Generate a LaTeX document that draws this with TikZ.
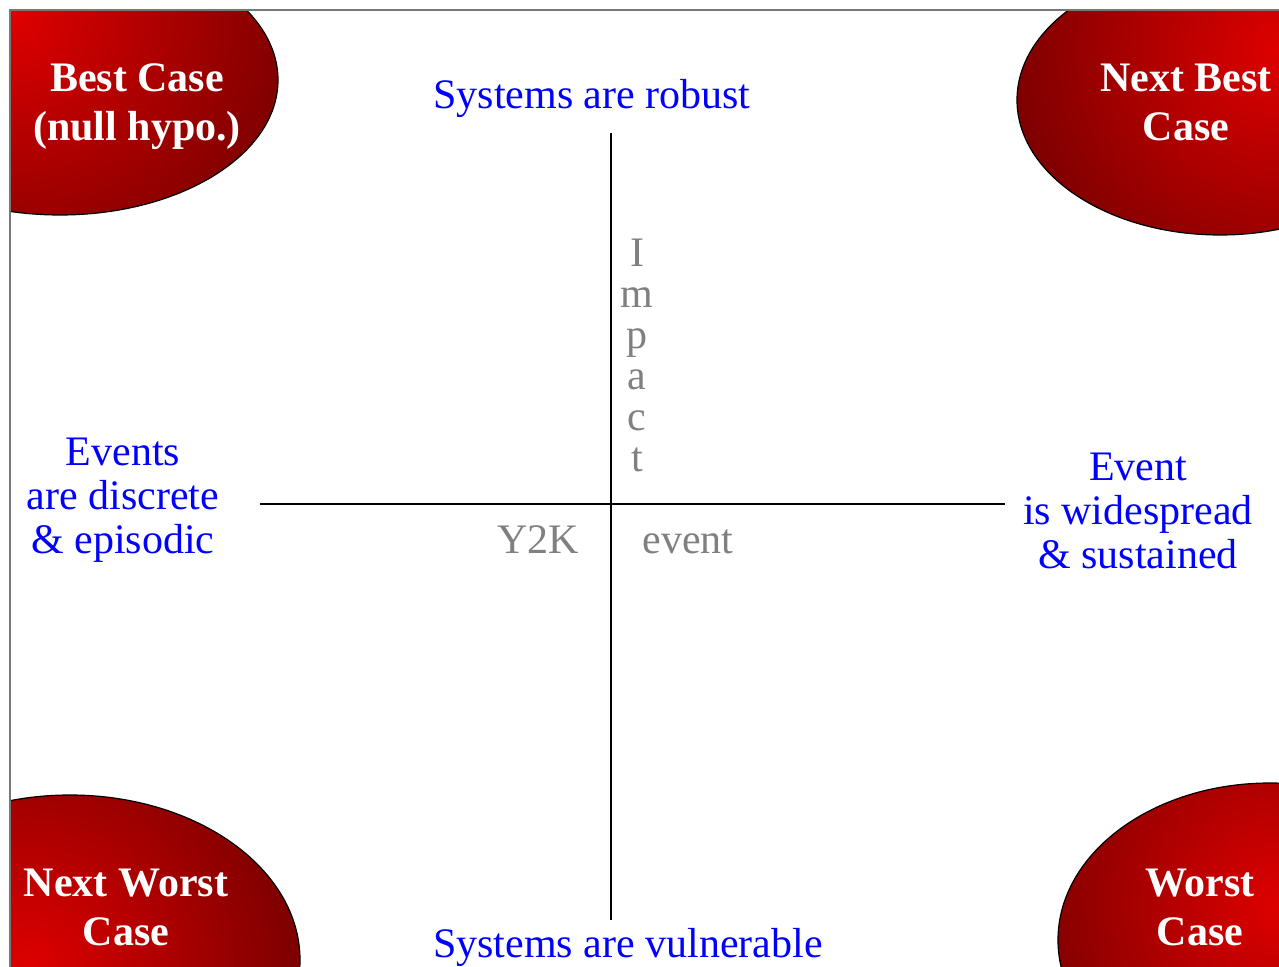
\documentclass[tikz,border=0pt]{standalone}
\usepackage{fontspec}
\setmainfont{Liberation Serif}
\definecolor{redhi}{RGB}{222,0,0}
\definecolor{redlo}{RGB}{100,0,0}
\definecolor{txtblue}{RGB}{0,0,255}
\definecolor{txtgray}{RGB}{128,128,128}
\definecolor{framegray}{RGB}{120,120,120}
\begin{document}
\begin{tikzpicture}[x=0.5pt,y=-0.5pt,
  bluetxt/.style={text=txtblue, font=\fontsize{21pt}{22pt}\selectfont, inner sep=0pt, align=center},
  graytxt/.style={text=txtgray, font=\fontsize{21pt}{20.5pt}\selectfont, inner sep=0pt, align=center},
  casetxt/.style={text=white, font=\bfseries\fontsize{21pt}{24.5pt}\selectfont, inner sep=0pt, align=center},
  axisline/.style={draw=black, line width=1pt},
  ovaledge/.style={draw=black, line width=0.6pt},
  frameline/.style={draw=framegray, line width=1pt}]
\useasboundingbox (0,0) rectangle (1279,967);
\fill[white] (0,0) rectangle (1279,967);

\begin{scope}
\clip (10,10) rectangle (1279,967);
% top-left
\begin{scope}
\clip (60,80) ellipse [x radius=218, y radius=135];
\shade[inner color=redhi, outer color=redlo] (15,15) circle (360);
\end{scope}
\draw[ovaledge] (60,80) ellipse [x radius=218, y radius=135];
% top-right
\begin{scope}
\clip (1220,100) ellipse [x radius=203, y radius=135];
\shade[inner color=redhi, outer color=redlo] (1279,50) circle (340);
\end{scope}
\draw[ovaledge] (1220,100) ellipse [x radius=203, y radius=135];
% bottom-left
\begin{scope}
\clip (70,960) ellipse [x radius=230, y radius=165];
\shade[inner color=redhi, outer color=redlo] (30,967) circle (340);
\end{scope}
\draw[ovaledge] (70,960) ellipse [x radius=230, y radius=165];
% bottom-right
\begin{scope}
\clip (1270,940) ellipse [x radius=212, y radius=157];
\shade[inner color=redhi, outer color=redlo] (1279,905) circle (320);
\end{scope}
\draw[ovaledge] (1270,940) ellipse [x radius=212, y radius=157];
\end{scope}

% frame
\coordinate (fbl) at (10,967);
\coordinate (ftl) at (10,10);
\coordinate (ftr) at (1279,10);
\draw[frameline] (fbl) -- (ftl) -- (ftr);

% axes
\coordinate (axL) at (260,504);
\coordinate (axR) at (1005,504);
\coordinate (axT) at (611,133);
\coordinate (axB) at (611,920);
\draw[axisline] (axL) -- (axR);
\draw[axisline] (axT) -- (axB);

% case labels
\node[casetxt] (best) at (137,107) {Best Case\\(null hypo.)};
\node[casetxt] (nextbest) at (1186,102) {Next Best\\Case};
\node[casetxt] (nextworst) at (126,907) {Next Worst\\Case};
\node[casetxt] (worst) at (1200,907) {Worst\\Case};

% blue labels
\node[bluetxt, anchor=base] (robust) at (592,109) {Systems are robust};
\node[bluetxt, anchor=base] (vulner) at (628,957) {Systems are vulnerable};
\node[bluetxt] (discrete) at (123,500) {Events\\are discrete\\\& episodic};
\node[bluetxt] (widesp) at (1138,511) {Event\\is widespread\\\& sustained};

% gray labels
\node[graytxt] (impact) at (637,355) {I\\m\\p\\a\\c\\t};
\node[graytxt, anchor=base] (y2k) at (538,553) {Y2K};
\node[graytxt, anchor=base] (event) at (688,553) {event};
\end{tikzpicture}
\end{document}
